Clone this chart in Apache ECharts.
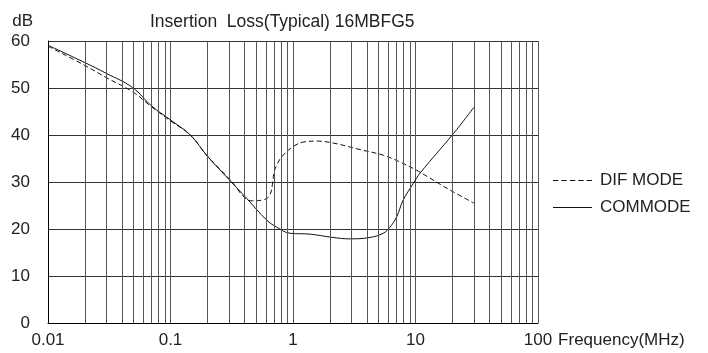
<!DOCTYPE html>
<html><head><meta charset="utf-8">
<script src="https://cdn.jsdelivr.net/npm/echarts@6/dist/echarts.min.js"></script>
<style>html,body{margin:0;padding:0;background:#fff}#c{width:708px;height:353px}</style>
</head><body><div id="c"></div>
<script>
var titleText = 'Insertion  Loss(Typical) 16MBFG5';
var xTickValues = [0.01, 0.1, 1, 10, 100];
var xTickLabels = ['0.01', '0.1', '1', '10', '100'];
var yTickLabels = ['0', '10', '20', '30', '40', '50', '60'];
var minorGridFreqs = [0.02,0.03,0.04,0.05,0.06,0.07,0.08,0.09,
  0.2,0.3,0.4,0.5,0.6,0.7,0.8,0.9,
  2,3,4,5,6,7,8,9,
  20,30,40,50,60,70,80,90];

var comFreq = [0.01,0.02,0.03,0.049,0.07,0.1,0.145,0.2,0.306,0.419,0.61,0.736,0.945,1.38,2.12,2.92,4.25,5.46,6.19,7.02,7.95,9.6,10.9,20.4,30];
var comDb   = [59.1,55.4,53.1,50.1,46.2,43.2,40.0,35.5,30.3,26.5,21.9,20.4,19.1,18.9,18.2,17.9,18.2,19.1,20.4,22.6,26.2,29.7,31.9,40.3,45.9];

var difFreq = [0.01,0.02,0.03,0.049,0.07,0.1,0.145,0.2,0.306,0.419,0.47,0.569,0.64,0.68,0.70,0.75,0.83,1.0,1.21,1.57,2.12,3.52,5.46,7.4,10.2,12.4,19.1,30];
var difDb   = [58.9,54.8,52.2,49.2,46.0,43.0,40.0,35.5,30.5,26.3,26.0,26.2,27.0,29.5,32.0,34.0,35.7,37.5,38.5,38.7,38.3,36.9,35.7,34.3,32.5,31.2,28.3,25.5];

function pairs(xs, ys){ return xs.map(function(x,i){ return [x, ys[i]]; }); }

var FONT = 'Liberation Sans, Arial, sans-serif';
var chart = echarts.init(document.getElementById('c'));
chart.setOption({
  animation: false,
  backgroundColor: '#fff',
  title: {
    text: titleText, left: 145, top: 8,
    textStyle: {fontFamily: FONT, fontSize: 17.5, fontWeight: 'normal', color: '#222'}
  },
  legend: {
    orient: 'vertical', left: 553, top: 172, padding: 0,
    itemWidth: 39, itemHeight: 14, itemGap: 10,
    textStyle: {fontFamily: FONT, fontSize: 17, color: '#222', padding: [0,0,0,3]},
    data: [
      {name: 'DIF MODE', icon: 'path://M0,0h5v1h-5z M8,0h5v1h-5z M16,0h5v1h-5z M24,0h5v1h-5z M32,0h5v1h-5z'},
      {name: 'COMMODE', icon: 'path://M0,0h37v1h-37z'}
    ]
  },
  grid: {left: 48, right: 170, top: 41, bottom: 30},
  xAxis: {
    type: 'log', logBase: 10, min: 0.01, max: 100,
    name: 'Frequency(MHz)', nameLocation: 'end', nameGap: 12,
    nameTextStyle: {fontFamily: FONT, fontSize: 17, color: '#222', verticalAlign: 'top', padding: [9,0,0,0]},
    axisLine: {show: true, lineStyle: {color: '#000', width: 1}},
    axisTick: {show: false},
    axisLabel: {
      fontFamily: FONT, fontSize: 17, color: '#222', margin: 9,
      formatter: function(v){
        for (var i=0;i<xTickValues.length;i++){ if (Math.abs(Math.log10(v)-Math.log10(xTickValues[i]))<1e-6) return xTickLabels[i]; }
        return '';
      }
    },
    splitLine: {show: true, lineStyle: {color: '#555', width: 1}}
  },
  yAxis: {
    type: 'value', min: 0, max: 60, interval: 10,
    name: 'dB', nameLocation: 'end', nameGap: 11,
    nameTextStyle: {fontFamily: FONT, fontSize: 17, color: '#222', align: 'right', padding: [0, 15, 0, 0]},
    axisLine: {show: true, lineStyle: {color: '#000', width: 1}},
    axisTick: {show: false},
    axisLabel: {
      fontFamily: FONT, fontSize: 17, color: '#222', margin: 18,
      formatter: function(v){ return yTickLabels[Math.round(v/10)]; }
    },
    splitLine: {show: true, lineStyle: {color: '#333', width: 1}}
  },
  series: [
    {
      name: 'grid', type: 'line', data: [], silent: true,
      markLine: {
        silent: true, symbol: 'none', label: {show: false},
        lineStyle: {color: '#555', width: 1, type: 'solid'},
        data: minorGridFreqs.map(function(f){ return {xAxis: f}; })
      }
    },
    {
      name: 'DIF MODE', type: 'line', data: pairs(difFreq, difDb),
      symbol: 'none', smooth: 0.4,
      lineStyle: {color: '#111', width: 1, type: [5, 3]},
      itemStyle: {color: '#111'}
    },
    {
      name: 'COMMODE', type: 'line', data: pairs(comFreq, comDb),
      symbol: 'none', smooth: 0.4,
      lineStyle: {color: '#111', width: 1, type: 'solid'},
      itemStyle: {color: '#111'}
    }
  ]
});
</script></body></html>
